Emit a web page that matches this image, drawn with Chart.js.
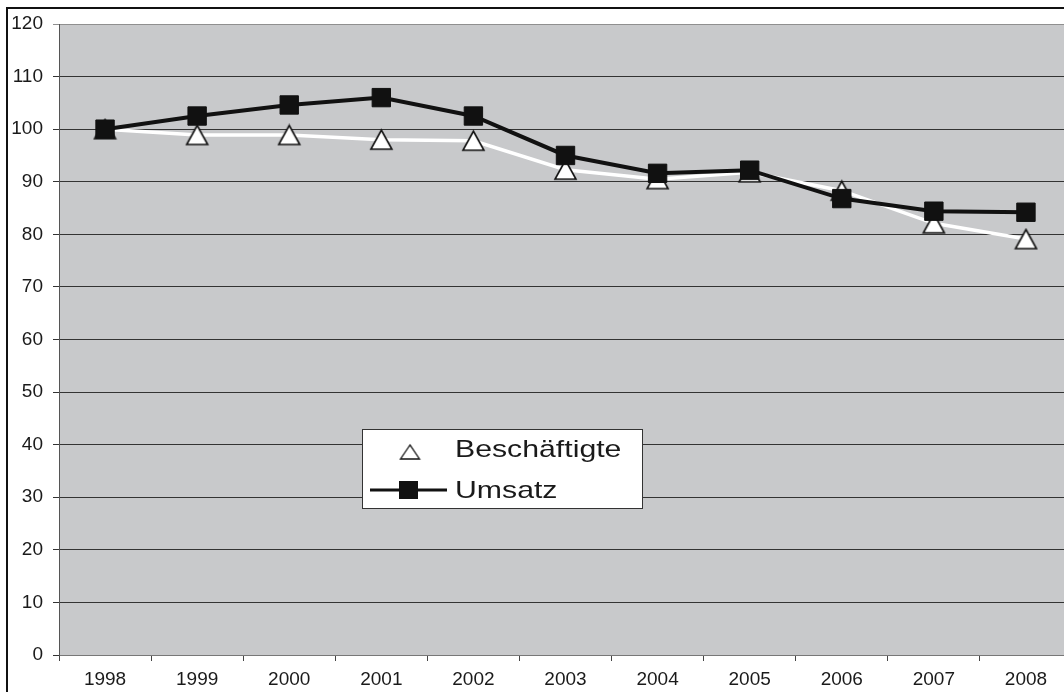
<!DOCTYPE html>
<html>
<head>
<meta charset="utf-8">
<script src="https://cdn.jsdelivr.net/npm/chart.js@4/dist/chart.umd.min.js"></script>
<style>
  html, body { margin: 0; padding: 0; background: #fff; overflow: hidden; }
  #wrap { position: absolute; left: 0; top: 0; width: 1086px; height: 692px; }
</style>
</head>
<body>
<div id="wrap"><canvas id="myChart" width="1086" height="692"></canvas></div>
<script>
// data
const years = ['1998', '1999', '2000', '2001', '2002', '2003', '2004', '2005', '2006', '2007', '2008'];
const beschaeftigte = [100, 98.9, 98.9, 98.0, 97.8, 92.3, 90.5, 91.8, 88.3, 82.1, 79.1];
const umsatz = [100, 102.5, 104.6, 106.0, 102.5, 95.0, 91.6, 92.2, 86.8, 84.4, 84.2];
const yTicks = { min: 0, max: 120, step: 10 };

// triangle marker centred on its box, like the original
function makeTriangle(w, h, lw) {
  const c = document.createElement('canvas');
  c.width = w + 4;
  c.height = h + 4;
  const g = c.getContext('2d');
  g.beginPath();
  g.moveTo(c.width / 2, 2);
  g.lineTo(2, h + 2);
  g.lineTo(w + 2, h + 2);
  g.closePath();
  g.fillStyle = '#fff';
  g.fill();
  g.lineWidth = lw;
  g.strokeStyle = '#111';
  g.stroke();
  return c;
}
const triMarker = makeTriangle(21, 19, 1.6);
const triLegend = makeTriangle(19, 14, 1.3);

// grey plot background and outer frame
const frame = {
  id: 'frame',
  beforeDraw(chart) {
    const ctx = chart.ctx;
    const a = chart.chartArea;
    ctx.save();
    ctx.fillStyle = '#fff';
    ctx.fillRect(0, 0, chart.width, chart.height);
    ctx.fillStyle = '#c8c9cb';
    ctx.fillRect(a.left, a.top, a.right - a.left, a.bottom - a.top);
    ctx.lineWidth = 2;
    ctx.strokeStyle = '#111';
    ctx.strokeRect(7, 8, chart.width + 20, chart.height + 20);
    ctx.restore();
  }
};

// legend box inside the plot
const boxLegend = {
  id: 'boxLegend',
  afterDraw(chart) {
    const ctx = chart.ctx;
    const a = chart.chartArea;
    const x = a.left + 303, y = a.top + 405, w = 280, h = 79;
    ctx.save();
    ctx.fillStyle = '#fff';
    ctx.fillRect(x, y, w, h);
    ctx.lineWidth = 1;
    ctx.strokeStyle = '#333';
    ctx.strokeRect(x + 0.5, y + 0.5, w, h);

    ctx.drawImage(triLegend, x + 48 - triLegend.width / 2, y + 23 - triLegend.height / 2);

    ctx.strokeStyle = '#111';
    ctx.lineWidth = 3;
    ctx.beginPath();
    ctx.moveTo(x + 8, y + 61);
    ctx.lineTo(x + 85, y + 61);
    ctx.stroke();
    ctx.fillStyle = '#111';
    ctx.fillRect(x + 37, y + 52, 19, 18);

    ctx.fillStyle = '#1a1a1a';
    ctx.font = '24px "Liberation Sans", Arial, sans-serif';
    ctx.textBaseline = 'middle';
    ctx.translate(x + 93, 0);
    ctx.scale(1.26, 1);
    ctx.fillText('Beschäftigte', 0, y + 21);
    ctx.fillText('Umsatz', 0, y + 62);
    ctx.restore();
  }
};

const ctx = document.getElementById('myChart').getContext('2d');

const myChart = new Chart(ctx, {
  type: 'line',
  data: {
    labels: years,
    datasets: [
      {
        label: 'Beschäftigte',
        data: beschaeftigte,
        borderColor: '#ffffff',
        borderWidth: 3.5,
        pointStyle: triMarker,
        order: 1,
        tension: 0
      },
      {
        label: 'Umsatz',
        data: umsatz,
        borderColor: '#111111',
        borderWidth: 4,
        pointStyle: 'rect',
        pointRadius: 13,
        pointBackgroundColor: '#111111',
        pointBorderColor: '#111111',
        pointBorderWidth: 1,
        order: 0,
        tension: 0
      }
    ]
  },
  options: {
    responsive: false,
    animation: false,
    events: [],
    layout: { padding: { left: 0, top: 24, right: 6, bottom: 0 } },
    plugins: {
      legend: { display: false },
      tooltip: { enabled: false }
    },
    scales: {
      x: {
        type: 'category',
        offset: true,
        afterFit(scale) { scale.height = 37; },
        grid: {
          offset: true,
          drawOnChartArea: false,
          drawTicks: true,
          tickLength: 6,
          color: '#444'
        },
        border: { display: true, color: '#777', width: 1 },
        ticks: {
          padding: 7,
          color: '#1a1a1a',
          autoSkip: false,
          maxRotation: 0,
          font: { family: '"Liberation Sans", Arial, sans-serif', size: 19 }
        }
      },
      y: {
        min: yTicks.min,
        max: yTicks.max,
        afterFit(scale) { scale.width = 59; },
        grid: {
          color: function(c) { return c.tick.value === yTicks.max ? '#8f8f8f' : '#333'; },
          tickLength: 6,
          lineWidth: 1
        },
        border: { display: true, color: '#555', width: 1 },
        ticks: {
          stepSize: yTicks.step,
          padding: 10,
          color: '#1a1a1a',
          font: { family: '"Liberation Sans", Arial, sans-serif', size: 19 }
        }
      }
    }
  },
  plugins: [frame, boxLegend]
});
</script>
</body>
</html>
